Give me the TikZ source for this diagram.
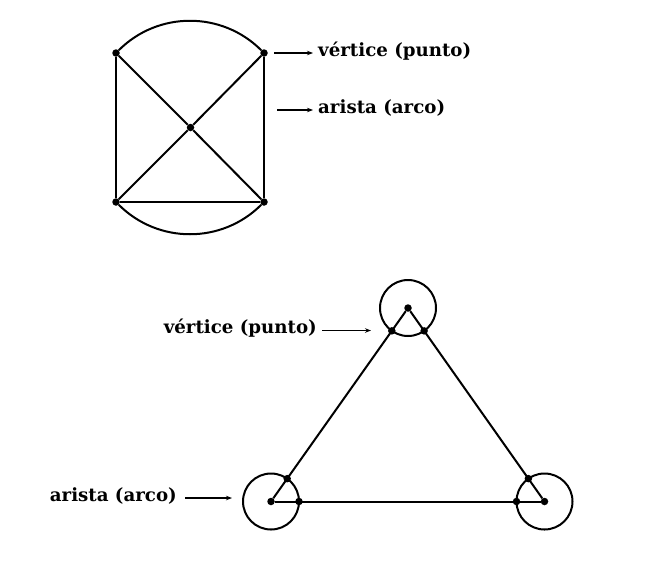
\documentclass[tikz,border=0pt]{standalone}
\usepackage{fontspec}
\setmainfont{DejaVu Serif}
\usetikzlibrary{arrows.meta,calc}
\begin{document}
\begin{tikzpicture}[x=1pt,y=-1pt,
  edge/.style={line width=2pt},
  thinedge/.style={line width=1.5pt},
  dot/.style={circle,fill=black,inner sep=0pt,minimum size=7.5pt},
  ring/.style={circle,draw,line width=2pt,minimum size=56pt,inner sep=0pt},
  pointer/.style={line width=1.2pt,-{Stealth[length=6pt,width=4.5pt]}},
  lbl/.style={font=\bfseries\fontsize{18.2}{21}\selectfont,inner sep=0pt}]
\useasboundingbox (0,0) rectangle (647,571);
% ---- top graph ----
\node[dot] (a) at (116,53) {};
\node[dot] (b) at (264,53) {};
\node[dot] (c) at (190.5,127.5) {};
\node[dot] (d) at (116,202) {};
\node[dot] (e) at (264,202) {};
\draw[edge] (a) to[bend left=45] (b);
\draw[edge] (d) to[bend right=45] (e);
\draw[edge] (a) -- (d);
\draw[thinedge] (b) -- (e);
\draw[edge] (d) -- (e);
\draw[edge] (a) -- (c) -- (e);
\draw[edge] (b) -- (c) -- (d);
\node[lbl,anchor=west] (v1) at (318,51) {vértice (punto)};
\node[lbl,anchor=west] (r1) at (318,108) {arista (arco)};
\coordinate (v1s) at (274,53);
\coordinate (r1s) at (277,110);
\draw[pointer] (v1s) -- ([xshift=-5pt]v1.west |- v1s);
\draw[pointer] (r1s) -- ([xshift=-5pt]r1.west |- r1s);
% ---- bottom graph ----
\node[ring] (P) at (408,308) {};
\node[ring] (Q) at (271,501.5) {};
\node[ring] (R) at (544.5,501.5) {};
\node[dot] (p) at (P.center) {};
\node[dot] (q) at (Q.center) {};
\node[dot] (r) at (R.center) {};
\draw[edge] (p) -- (q);
\draw[edge] (p) -- (r);
\draw[edge] (q) -- (r);
\node[dot] (pq) at ($(P.center)!28pt!(Q.center)$) {};
\node[dot] (pr) at ($(P.center)!28pt!(R.center)$) {};
\node[dot] (qp) at ($(Q.center)!28pt!(P.center)$) {};
\node[dot] (qr) at ($(Q.center)!28pt!(R.center)$) {};
\node[dot] (rp) at ($(R.center)!28pt!(P.center)$) {};
\node[dot] (rq) at ($(R.center)!28pt!(Q.center)$) {};
\node[lbl,anchor=east] (v2) at (317,328) {vértice (punto)};
\node[lbl,anchor=east] (r2) at (177,495.5) {arista (arco)};
\coordinate (v2t) at (371,330.5);
\coordinate (r2t) at (232,498);
\draw[pointer] ([xshift=5pt]v2.east |- v2t) -- (v2t);
\draw[pointer] ([xshift=8pt]r2.east |- r2t) -- (r2t);
\end{tikzpicture}
\end{document}
